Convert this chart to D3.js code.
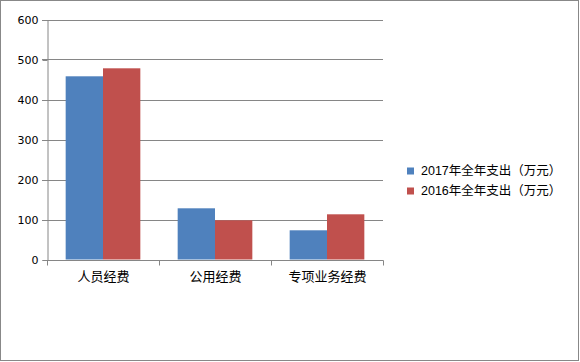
<!DOCTYPE html>
<html><head><meta charset="utf-8">
<script src="https://cdn.jsdelivr.net/npm/d3@7"></script>
<style>html,body{margin:0;padding:0;background:#fff;}svg{display:block;}</style>
</head><body>
<svg id="c" width="580" height="362"></svg>
<script>
const categories = ["人员经费", "公用经费", "专项业务经费"];
const seriesNames = ["2017年全年支出（万元）", "2016年全年支出（万元）"];
const values2017 = [458, 128, 73];
const values2016 = [478, 98, 113];
const yTicks = [0, 100, 200, 300, 400, 500, 600];
const colors = ["#4F81BD", "#C0504D"];

(function () {
const svg = d3.select("#c");
const font = "'DejaVu Sans','Noto Sans CJK SC',sans-serif";
const font2 = "'Liberation Sans','Noto Sans CJK SC',sans-serif";
const axisColor = "#868686";

svg.append("rect").attr("x", 0.5).attr("y", 0.5).attr("width", 578).attr("height", 360)
  .attr("fill", "#fff").attr("stroke", "#888").attr("stroke-width", 1);

const pl = 47, pr = 383, pt = 19.5, pb = 259.5;
const x = d3.scaleBand().domain(categories).range([pl, pr]).paddingInner(0).paddingOuter(0);
const x1 = d3.scaleBand().domain([0, 1]).range([x.bandwidth() / 6, x.bandwidth() * 5 / 6]).padding(0);
const y = d3.scaleLinear().domain([0, 600]).range([pb, pt]);

// gridlines
svg.append("g").selectAll("line").data(yTicks.filter(t => t > 0)).join("line")
  .attr("x1", pl - 5).attr("x2", pr)
  .attr("y1", d => Math.round(y(d)) + 0.5).attr("y2", d => Math.round(y(d)) + 0.5)
  .attr("stroke", axisColor).attr("stroke-width", 1);

// bars
const series = [values2017, values2016];
const g = svg.append("g");
series.forEach((vals, si) => {
  g.selectAll(null).data(vals).join("rect")
    .attr("x", (d, i) => x(categories[i]) + x1(si))
    .attr("width", x1.bandwidth())
    .attr("y", d => y(d))
    .attr("height", d => y(0) - y(d))
    .attr("fill", colors[si]);
});

// y axis
const yAxis = d3.axisLeft(y).tickValues(yTicks).tickSize(5).tickPadding(4).tickFormat(d3.format("d"));
const ya = svg.append("g").attr("transform", `translate(${pl + 0.5},0.5)`).call(yAxis);
ya.select(".domain").attr("stroke", axisColor);
ya.selectAll(".tick line").attr("stroke", axisColor);
ya.selectAll(".tick text").attr("font-family", font).attr("font-size", 11).attr("fill", "#000");

// x axis
const xAxis = d3.axisBottom(x).tickSize(0).tickPadding(11);
const xa = svg.append("g").attr("transform", `translate(0.5,${Math.round(pb) + 0.5})`).call(xAxis);
xa.select(".domain").attr("stroke", axisColor).attr("d", `M${pl},0H${pr}`);
xa.selectAll(".tick text").attr("font-family", font).attr("font-size", 13).attr("fill", "#000");
const bounds = [pl, ...categories.map(c => x(c) + x.bandwidth())];
xa.selectAll(".bt").data(bounds).join("line").attr("class", "bt")
  .attr("x1", d => d).attr("x2", d => d).attr("y1", 0).attr("y2", 5)
  .attr("stroke", axisColor);

// legend
const leg = svg.append("g").attr("transform", "translate(407,171)");
seriesNames.forEach((n, i) => {
  const row = leg.append("g").attr("transform", `translate(0,${i * 20})`);
  row.append("rect").attr("x", 0).attr("y", -3.5).attr("width", 7).attr("height", 7).attr("fill", colors[i]);
  row.append("text").attr("x", 14).attr("y", 0).attr("dy", "0.35em")
    .attr("font-family", font2).attr("font-size", 12.5).attr("fill", "#000").text(n);
});
})();
</script>
</body></html>
